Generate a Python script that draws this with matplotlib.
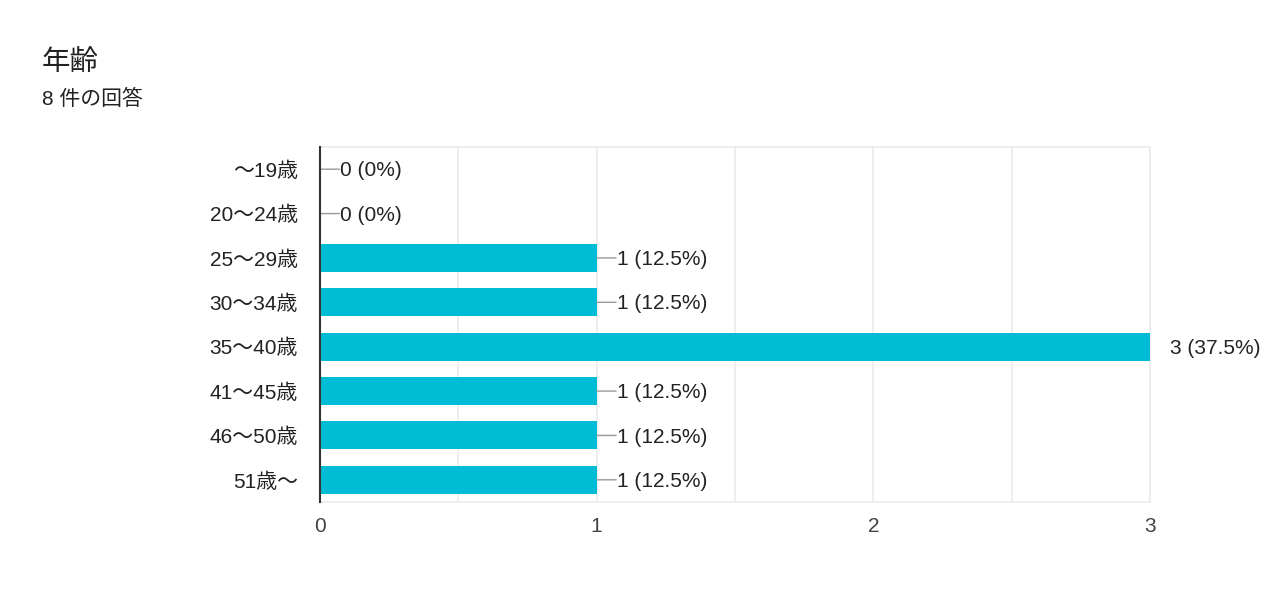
import matplotlib
matplotlib.use("Agg")
import matplotlib.pyplot as plt
from matplotlib.ticker import MultipleLocator

plt.rcParams["font.family"] = ["Liberation Sans", "Noto Sans CJK JP", "DejaVu Sans"]

# Data
categories = ["〜19歳", "20〜24歳", "25〜29歳", "30〜34歳", "35〜40歳", "41〜45歳", "46〜50歳", "51歳〜"]
counts = [0, 0, 1, 1, 3, 1, 1, 1]
percents = ["0%", "0%", "12.5%", "12.5%", "37.5%", "12.5%", "12.5%", "12.5%"]
title = "年齢"
subtitle = "8 件の回答"

bar_color = "#00BCD4"
text_color = "#222222"
grid_color = "#ebebeb"
fs = 15

fig = plt.figure(figsize=(12.8, 6.08), dpi=100)
ax = fig.add_axes([320 / 1280, 1 - 502 / 608, 830 / 1280, 355 / 608])

y = list(range(len(categories)))
ax.barh(y, counts, height=0.63, color=bar_color, zorder=3)

xmax = max(counts)
ax.set_xlim(0, xmax)
ax.set_ylim(len(categories) - 0.5, -0.5)

ax.set_yticks(y)
ax.set_yticklabels(categories, fontsize=fs, color=text_color)
ax.xaxis.set_major_locator(MultipleLocator(1))
ax.xaxis.set_minor_locator(MultipleLocator(0.5))
ax.tick_params(axis="x", which="both", length=0, labelsize=fs, labelcolor="#444444", pad=11)
ax.tick_params(axis="y", length=0, pad=16)
ax.grid(axis="x", which="both", color=grid_color, linewidth=1.2, zorder=0)

for side in ["top", "right", "bottom"]:
    ax.spines[side].set_color(grid_color)
    ax.spines[side].set_linewidth(1.2)
ax.spines["left"].set_color("#333333")
ax.spines["left"].set_linewidth(1.5)
ax.spines["left"].set_zorder(4)

# value labels with short leader lines
for yi, c, p in zip(y, counts, percents):
    label = f"{c} ({p})"
    if c < xmax:
        ax.annotate("", xy=(c, yi), xytext=(14, 0), textcoords="offset points",
                    arrowprops=dict(arrowstyle="-", color="#999999", lw=1.0,
                                    shrinkA=0, shrinkB=0), annotation_clip=False)
    ax.annotate(label, xy=(c, yi), xytext=(14.5, -1.2), textcoords="offset points",
                va="center", ha="left", fontsize=fs, color=text_color,
                annotation_clip=False)

fig.text(42 / 1280, 1 - 63 / 608, title, fontsize=20.5, color=text_color, va="center", ha="left")
fig.text(42 / 1280, 1 - 99 / 608, subtitle, fontsize=fs, color=text_color, va="center", ha="left")

fig.savefig("out.png", dpi=100, facecolor="white")
